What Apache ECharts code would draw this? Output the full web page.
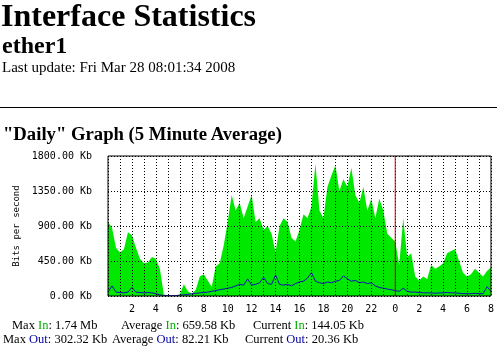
<!DOCTYPE html>
<html lang="en">
<head>
<meta charset="utf-8">
<title>Interface Statistics</title>
<script src="https://cdn.jsdelivr.net/npm/echarts@6/dist/echarts.min.js"></script>
<style>
  html, body { margin: 0; background: #fff; width: 497px; height: 351px; overflow: hidden; }
  body { font-family: "Liberation Serif", "Times New Roman", serif; color: #000; position: relative; }
  .t { position: absolute; white-space: nowrap; }
  #h1 { left: 1px; top: -1px; font-size: 32px; line-height: 32px; font-weight: bold; }
  #h2 { left: 2px; top: 33px; font-size: 24px; line-height: 24px; font-weight: bold; }
  #upd { left: 2px; top: 60px; font-size: 15px; line-height: 15px; }
  #rule { position: absolute; left: 0; top: 107px; width: 497px; height: 1px; background: #000; }
  #h3 { left: 3px; top: 124px; font-size: 18.7px; line-height: 19px; font-weight: bold; }
  .st { font-size: 12.5px; line-height: 13px; }
  .in { color: #00b000; }
  .out { color: #0000a0; }
  #chart { position: absolute; left: 0; top: 0; width: 497px; height: 351px; }
</style>
</head>
<body>
<div id="chart"></div>
<div class="t" id="h1">Interface Statistics</div>
<div class="t" id="h2">ether1</div>
<div class="t" id="upd">Last update: Fri Mar 28 08:01:34 2008</div>
<div id="rule"></div>
<div class="t" id="h3">"Daily" Graph (5 Minute Average)</div>
<div class="t st" style="left:12px;top:319px">Max <span class="in">In</span>: 1.74 Mb</div>
<div class="t st" style="left:121px;top:319px">Average <span class="in">In</span>: 659.58 Kb</div>
<div class="t st" style="left:253px;top:319px">Current <span class="in">In</span>: 144.05 Kb</div>
<div class="t st" style="left:3px;top:333px">Max <span class="out">Out</span>: 302.32 Kb</div>
<div class="t st" style="left:112px;top:333px">Average <span class="out">Out</span>: 82.21 Kb</div>
<div class="t st" style="left:245px;top:333px">Current <span class="out">Out</span>: 20.36 Kb</div>
<script>
// samples every 20 minutes, starting 00:00 of the previous day, ending 08:00
const sampleMinutes = 20
const spanHours = 32
const dayStartHour = 24

// incoming traffic, Kb/s
const inKb = [
  950, 880, 620, 560, 600, 820, 780, 620, 480, 420, 430, 500,
  480, 350, 20, 10, 0, 10, 20, 150, 60, 30, 80, 250,
  280, 200, 120, 380, 420, 650, 950, 1300, 1100, 1200, 1000, 1150,
  1300, 950, 1000, 850, 900, 800, 560, 900, 1000, 950, 750, 700,
  850, 1050, 1000, 1150, 1700, 1100, 1000, 1400, 1550, 1680, 1350, 1500,
  1400, 1650, 1300, 1200, 1400, 1100, 1250, 1000, 1250, 1100, 800, 750,
  700, 400, 1000, 500, 550, 250, 200, 250, 220, 400, 350, 380,
  420, 550, 580, 600, 450, 300, 250, 280, 350, 300, 250, 320,
  370
]

// outgoing traffic, Kb/s
const outKb = [
  50, 130, 50, 45, 40, 50, 110, 50, 45, 40, 45, 40,
  30, 15, 5, 5, 5, 5, 10, 15, 20, 30, 35, 40,
  45, 50, 60, 70, 80, 90, 100, 110, 130, 150, 140, 220,
  140, 150, 170, 240, 160, 150, 270, 150, 140, 150, 130, 160,
  180, 190, 230, 300, 190, 170, 160, 180, 170, 190, 200, 260,
  220, 190, 200, 170, 180, 160, 170, 130, 110, 100, 90, 80,
  70, 60, 100, 60, 50, 50, 45, 40, 40, 40, 35, 40,
  40, 45, 40, 40, 35, 30, 30, 30, 35, 30, 30, 120,
  60
]

const yMax = 1800
const yStep = 450

function toPoints(list) {
  return list.map((v, i) => [i * sampleMinutes / 60, v])
}

const chart = echarts.init(document.getElementById('chart'), null, { renderer: 'canvas' })
const mono = 'DejaVu Sans Mono'

chart.setOption({
  animation: false,
  grid: {
    left: 108, top: 156, width: 384, height: 140,
    show: true, borderColor: '#000', borderWidth: 1, backgroundColor: 'transparent', z: 10
  },
  xAxis: {
    type: 'value', min: 0, max: spanHours, interval: 1, z: 5,
    axisLine: { show: false },
    axisTick: { show: false },
    axisLabel: {
      margin: 8, color: '#000', fontFamily: mono, fontSize: 10,
      showMinLabel: false, showMaxLabel: true,
      formatter: v => (v > 0 && v % 2 === 0) ? String(v % 24) : ''
    },
    splitLine: { show: true, lineStyle: { color: '#000', width: 1, type: [1, 2] } }
  },
  yAxis: {
    type: 'value', min: 0, max: yMax, interval: yStep, z: 5,
    name: 'Bits per second', nameLocation: 'middle', nameRotate: 90, nameGap: 84,
    nameTextStyle: { color: '#000', fontFamily: mono, fontSize: 9 },
    axisLine: { show: false },
    axisTick: { show: false },
    axisLabel: {
      margin: 16, color: '#000', fontFamily: mono, fontSize: 10,
      formatter: v => v.toFixed(2) + ' Kb'
    },
    splitLine: { show: true, lineStyle: { color: '#000', width: 1, type: [1, 2] } }
  },
  series: [
    {
      name: 'In', type: 'line', data: toPoints(inKb), symbol: 'none', z: 2,
      lineStyle: { width: 0 },
      areaStyle: { color: '#00e800', opacity: 1 }
    },
    {
      name: 'Out', type: 'line', data: toPoints(outKb), symbol: 'none', z: 3,
      lineStyle: { color: '#1010b0', width: 1 }
    },
    {
      // red marker at midnight
      name: 'day start', type: 'line', z: 8, symbol: 'none', silent: true,
      data: [[dayStartHour, 0], [dayStartHour, yMax]],
      lineStyle: { color: '#cc0000', width: 1 }
    }
  ]
})
</script>
</body>
</html>
